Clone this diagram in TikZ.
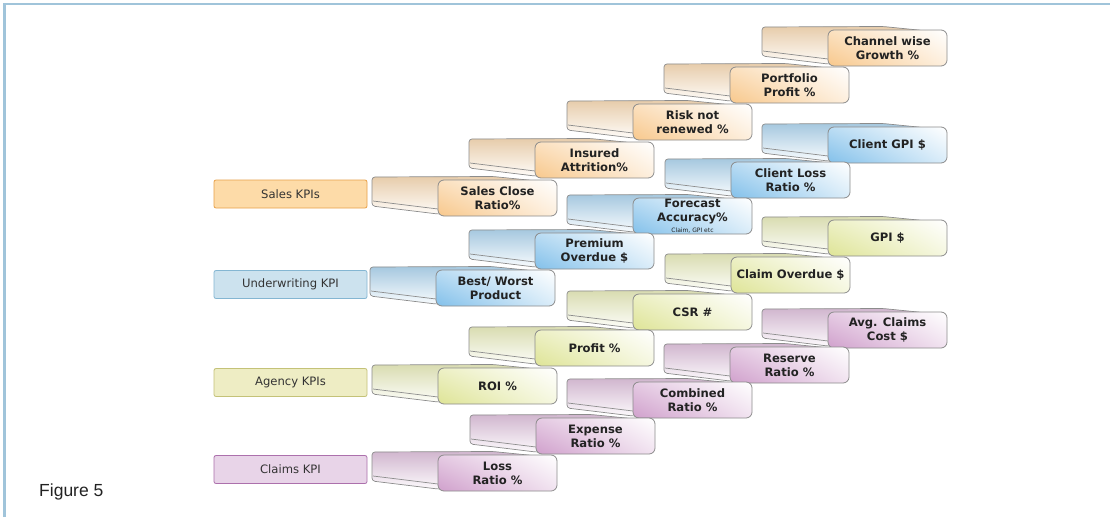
\documentclass[tikz,border=0pt]{standalone}
\usepackage{fontspec}
\setmainfont{DejaVu Sans}
\newfontfamily\figfont{Liberation Sans}
\usetikzlibrary{shadings}

% group colours
\definecolor{salesC}{RGB}{248,200,140}
\definecolor{uwC}{RGB}{130,192,234}
\definecolor{agC}{RGB}{222,228,150}
\definecolor{clC}{RGB}{208,160,204}
% category labels
\definecolor{salesFill}{RGB}{253,219,168}
\definecolor{salesLine}{RGB}{232,160,72}
\definecolor{uwFill}{RGB}{204,226,238}
\definecolor{uwLine}{RGB}{132,182,210}
\definecolor{agFill}{RGB}{238,237,196}
\definecolor{agLine}{RGB}{196,194,120}
\definecolor{clFill}{RGB}{232,212,232}
\definecolor{clLine}{RGB}{172,112,172}
\definecolor{edge}{RGB}{140,140,140}
\definecolor{frame}{RGB}{160,196,218}
\definecolor{ink}{RGB}{34,34,34}
\definecolor{labelink}{RGB}{51,51,51}

\tikzset{
  kpitext/.style={align=center, font=\fontsize{11.6}{14}\selectfont\bfseries, text=ink, inner sep=0pt},
  catbox/.style={rounded corners=2pt, minimum width=153pt, minimum height=28pt, inner sep=0pt,
    font=\fontsize{11.6}{13}\selectfont, text=labelink, line width=0.8pt},
  slabline/.style={draw=edge, line width=0.7pt},
}

% one stair block: #1,#2 = top-left of the front face, #3 = colour, #4 = name, #5 = text
\newcommand\kpiblock[5]{%
  \begin{scope}[shift={(#1,#2)}]
    \shade[slabline, rounded corners=3pt, top color=#3!60!white!92!black, bottom color=#3!6!white]
      (-66,-3) -- (55,-3.5) -- (95,0.5) -- (95,32) -- (0,34) -- (-66,26) -- cycle;
    \draw[slabline] (-65,21) -- (0,29);
    \shade[draw=edge, line width=0.8pt, rounded corners=6pt,
      lower left=#3, upper left=#3!55!white, upper right=white, lower right=#3!30!white]
      (0,0) rectangle (119,36);
    \node[kpitext] (#4) at (59.5,18) {#5};
  \end{scope}}

\begin{document}
\begin{tikzpicture}[x=1pt,y=-1pt]
  \useasboundingbox (0,0) rectangle (1110,517);
  \fill[white] (0,0) rectangle (1110,517);
  \draw[frame, line width=2.4pt] (4.6,517) -- (4.6,4) -- (1110,4);

  % category labels
  \node[catbox, fill=salesFill, draw=salesLine] (sales) at (290.5,194) {Sales KPIs};
  \node[catbox, fill=uwFill, draw=uwLine] (uw) at (290.5,284.5) {Underwriting KPI};
  \node[catbox, fill=agFill, draw=agLine] (agency) at (290.5,382.5) {Agency KPIs};
  \node[catbox, fill=clFill, draw=clLine] (claims) at (290.5,469.5) {Claims KPI};

  % blocks, back rows first
  \kpiblock{828}{30}{salesC}{chgrowth}{Channel wise\\Growth \%}
  \kpiblock{730}{67}{salesC}{portprofit}{Portfolio\\Profit \%}
  \kpiblock{633}{104}{salesC}{risknr}{Risk not\\renewed \%}
  \kpiblock{828}{127}{uwC}{clientgpi}{Client GPI \$}
  \kpiblock{535}{142}{salesC}{attrition}{Insured\\Attrition\%}
  \kpiblock{731}{162}{uwC}{clientloss}{Client Loss\\Ratio \%}
  \kpiblock{438}{180}{salesC}{salesclose}{Sales Close\\Ratio\%}
  \kpiblock{633}{198}{uwC}{forecast}{Forecast\\Accuracy\%\\[-2.5pt]{\fontsize{6}{6}\selectfont\mdseries Claim, GPI etc}}
  \kpiblock{828}{220}{agC}{gpi}{GPI \$}
  \kpiblock{535}{233}{uwC}{premium}{Premium\\Overdue \$}
  \kpiblock{731}{257}{agC}{claimod}{Claim Overdue \$}
  \kpiblock{436}{270}{uwC}{bestworst}{Best/ Worst\\Product}
  \kpiblock{633}{294}{agC}{csr}{CSR \#}
  \kpiblock{828}{312}{clC}{avgclaims}{Avg. Claims\\Cost \$}
  \kpiblock{535}{330}{agC}{profit}{Profit \%}
  \kpiblock{730}{347}{clC}{reserve}{Reserve\\Ratio \%}
  \kpiblock{438}{368}{agC}{roi}{ROI \%}
  \kpiblock{633}{382}{clC}{combined}{Combined\\Ratio \%}
  \kpiblock{536}{418}{clC}{expense}{Expense\\Ratio \%}
  \kpiblock{438}{455}{clC}{loss}{Loss\\Ratio \%}

  \node[font=\figfont\fontsize{17.5}{20}\selectfont, text=ink, anchor=base west, inner sep=0pt] (fig) at (39,496) {Figure 5};
\end{tikzpicture}
\end{document}
